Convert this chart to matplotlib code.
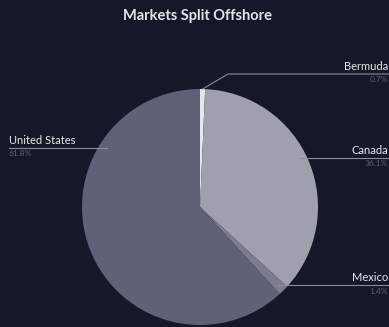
import matplotlib.pyplot as plt
import numpy as np

# Offshore market split by country (percent)
countries = ['Bermuda', 'Canada', 'Mexico', 'United States']
shares = [0.7, 36.1, 1.4, 61.8]
colors = ['#e6e7ee', '#9fa0ae', '#7b7d8f', '#5f6176']

BG = '#151829'
W, H = 389, 327

fig = plt.figure(figsize=(W / 100, H / 100), dpi=100, facecolor=BG)
ax = fig.add_axes([0, 0, 1, 1])
ax.set_facecolor(BG)

cx, cy, r = 200, H - 207, 118
wedges, _ = ax.pie(shares, colors=colors, startangle=90, counterclock=False,
                   center=(cx, cy), radius=r, frame=True,
                   wedgeprops=dict(linewidth=0))
ax.set_xlim(0, W)
ax.set_ylim(0, H)
ax.set_aspect('equal')
ax.axis('off')

plt.rcParams['font.family'] = ['Lato', 'DejaVu Sans']

ax.text(198, H - 16, 'Markets Split Offshore', ha='center', va='center',
        fontsize=10.5, fontweight='bold', color='#e4e5ec')

line_col = '#8a8c9b'
name_col = '#e8e9ef'
pct_col = '#5c5f72'

# Bermuda: elbow leader from the wedge tip
w = wedges[0]
ang = np.deg2rad((w.theta1 + w.theta2) / 2)
x0, y0 = cx + r * np.cos(ang), cy + r * np.sin(ang)
ax.plot([x0, 228, W], [y0, H - 74, H - 74], color=line_col, lw=0.8)

# (label, line y, line x-start, line x-end, text x, align)
layout = [
    ('Bermuda', 74, None, W, 388, 'right'),
    ('Canada', 158, 300, W, 388, 'right'),
    ('Mexico', 285, 277, W, 388, 'right'),
    ('United States', 148, 9, 107, 9, 'left'),
]
for (name, ly, xs, xe, tx, ha), share in zip(layout, shares):
    if xs is not None:
        ax.plot([xs, xe], [H - ly, H - ly], color=line_col, lw=0.8)
    ax.text(tx, H - ly + 2, name, ha=ha, va='bottom', fontsize=8, color=name_col)
    ax.text(tx, H - ly - 2.5, f'{share}%', ha=ha, va='top', fontsize=6,
            color=pct_col)

fig.savefig('out.png', dpi=100, facecolor=BG)
